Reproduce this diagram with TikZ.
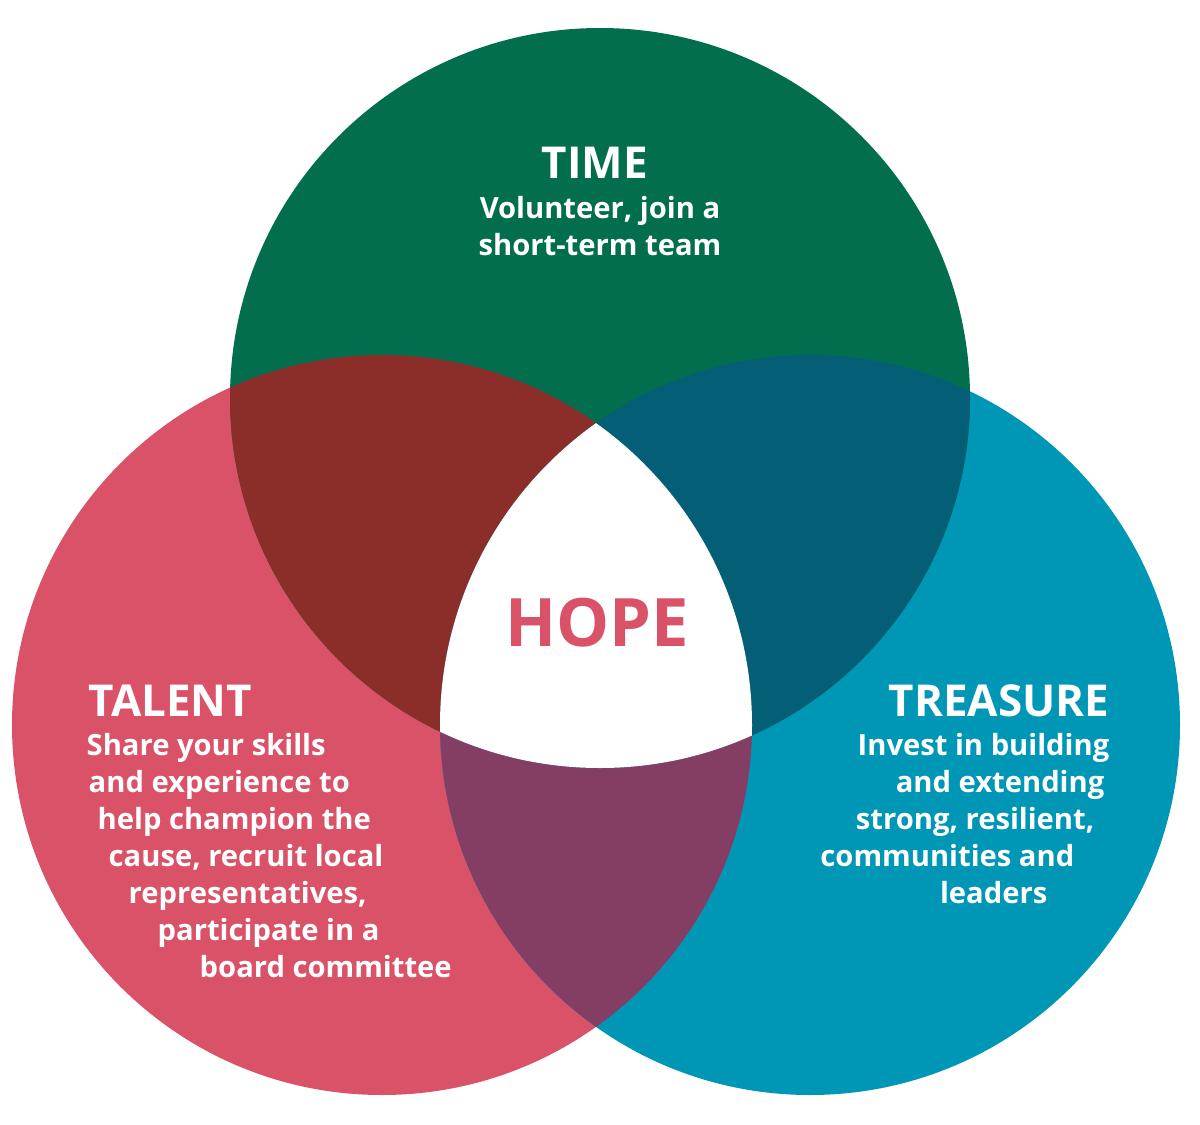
\documentclass[tikz,border=0pt]{standalone}
\usepackage{fontspec}
\setmainfont{Open Sans}[UprightFont=* Bold]
\begin{document}
\begin{tikzpicture}[x=0.01cm,y=-0.01cm,
  body/.style={text=white,font=\fontsize{8.3}{10}\selectfont,anchor=base west,inner sep=0},
  head/.style={text=white,font=\fontsize{12.5}{14}\selectfont,inner sep=0,anchor=base west}]
\useasboundingbox (0,0) rectangle (1200,1124);
\definecolor{cg}{HTML}{036E4E}\definecolor{cr}{HTML}{DA5267}\definecolor{ct}{HTML}{0097B6}
\definecolor{crg}{HTML}{8B2E2A}\definecolor{cgt}{HTML}{045E75}\definecolor{crt}{HTML}{843D63}
\def\G{(600,398) circle (370)}\def\R{(382,725) circle (370)}\def\T{(810,725) circle (370)}
\fill[cr] \R; \fill[ct] \T; \fill[cg] \G;
\begin{scope}\clip \R; \fill[crg] \G; \fill[crt] \T; \end{scope}
\begin{scope}\clip \G; \fill[cgt] \T; \end{scope}
\begin{scope}\clip \R; \clip \G; \fill[white] \T; \end{scope}
\node[head,anchor=base] (time) at (595,178) {TIME};
\node[body,anchor=base] (t1) at (600,218) {Volunteer, join a};
\node[body,anchor=base] (t2) at (600,255) {short-term team};
\node[text=cr,font=\fontsize{19}{22}\selectfont,anchor=base,inner sep=0] (hope) at (597,646) {HOPE};
\node[head] (tal) at (88,716) {TALENT};
\node[body] (a1) at (86,755) {Share your skills};
\node[body] (a2) at (88,792) {and experience to};
\node[body] (a3) at (97,829) {help champion the};
\node[body] (a4) at (108,866) {cause, recruit local};
\node[body] (a5) at (128,903) {representatives,};
\node[body] (a6) at (157,940) {participate in a};
\node[body] (a7) at (199,977) {board committee};
\node[head,anchor=base east] (tre) at (1110,716) {TREASURE};
\node[body,anchor=base east] (b1) at (1110,755) {Invest in building};
\node[body,anchor=base east] (b2) at (1105,792) {and extending};
\node[body,anchor=base east] (b3) at (1095,829) {strong, resilient,};
\node[body,anchor=base east] (b4) at (1075,866) {communities and};
\node[body,anchor=base east] (b5) at (1048,903) {leaders};
\end{tikzpicture}
\end{document}
